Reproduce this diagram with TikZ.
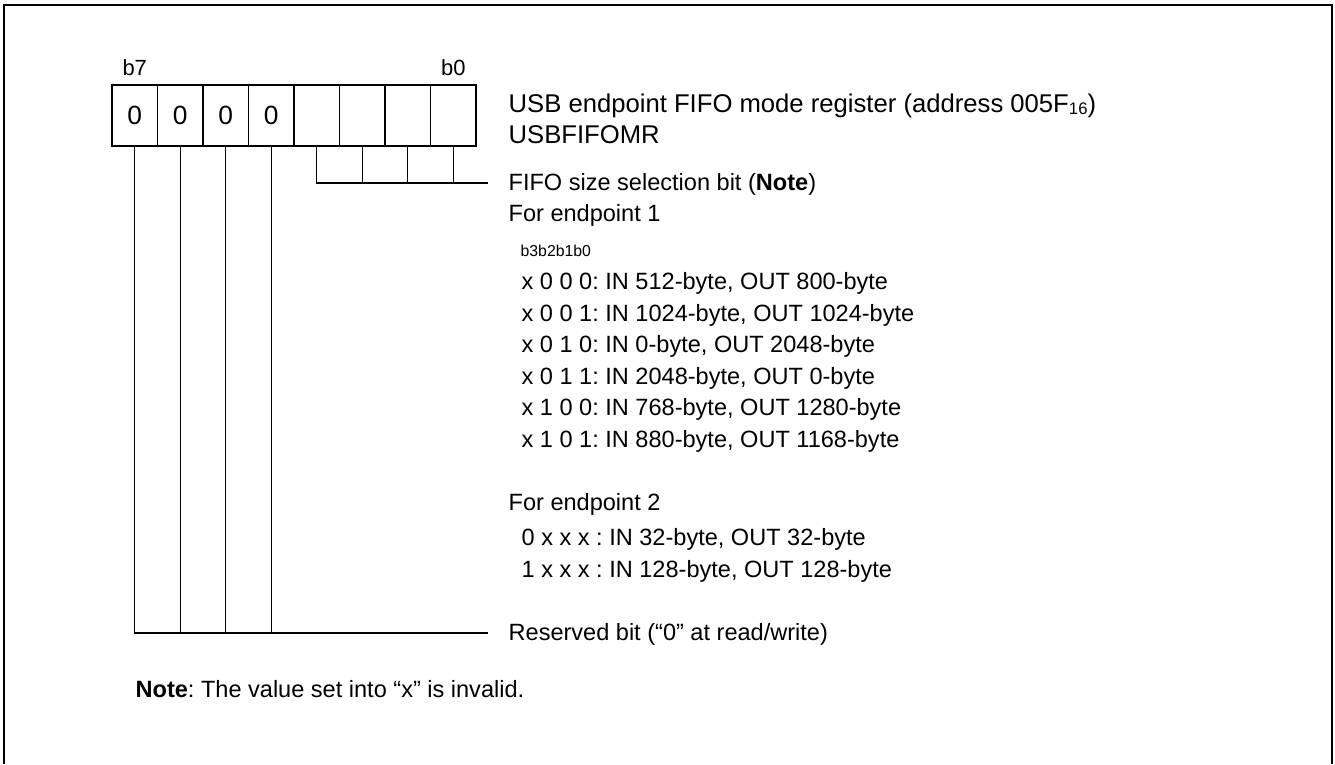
\documentclass[tikz,border=0pt]{standalone}
\usepackage{fontspec}
\setmainfont{Liberation Sans}
\usetikzlibrary{positioning}
\frenchspacing

\begin{document}
\begin{tikzpicture}[x=0.02cm, y=-0.02cm, line width=0.75pt,
    cell/.style={draw, minimum width=0.91cm, minimum height=1.22cm, inner sep=0pt,
                 font=\fontsize{15}{17}\selectfont},
    lbl/.style={anchor=base west, inner sep=0pt, font=\fontsize{13.4}{16}\selectfont},
    title/.style={lbl, font=\fontsize{14.6}{17}\selectfont},
    bitlbl/.style={inner sep=0pt, font=\fontsize{12.5}{14}\selectfont},
    tiny/.style={anchor=base west, inner sep=0pt, font=\fontsize{9}{10}\selectfont}]

    \useasboundingbox (0,0) rectangle (1335,764);
    \draw[line width=1.2pt] (4,764) -- (4,5) -- (1332,5) -- (1332,764);

    % register cells, b7 on the left
    \foreach \i/\v in {0/0, 1/0, 2/0, 3/0, 4/{}, 5/{}, 6/{}, 7/{}} {
        \pgfmathtruncatemacro{\b}{7-\i}
        \node[cell] (c\b) at ({112+45.5*(\i+0.5)}, 115.5) {\v};
    }
    \node[bitlbl, anchor=base, above=0.16cm] at (c7.north) {b7};
    \node[bitlbl, anchor=base, above=0.16cm] at (c0.north) {b0};

    \node[title] (reg) at (508,112) {USB endpoint FIFO mode register (address 005F{\fontsize{9.5}{10}\selectfont\raisebox{-1.5pt}{16}})};
    \node[title] (regname) at (508,143.5) {USBFIFOMR};

    % FIFO size selection bits
    \coordinate (fifoend) at (488,183);
    \draw (c3.south) |- (fifoend);
    \foreach \b in {2,1,0}
        \draw (c\b.south) -- (c\b.south |- fifoend);
    \node[lbl] (fifo) at (508,190) {FIFO size selection bit (\textbf{Note})};
    \node[lbl] (ep1) at (508,221) {For endpoint 1};
    \node[tiny] (bits) at (520,256) {b3b2b1b0};
    \node[lbl] (r0) at (521,289.5) {x 0 0 0: IN 512-byte, OUT 800-byte};
    \node[lbl] (r1) at (521,321) {x 0 0 1: IN 1024-byte, OUT 1024-byte};
    \node[lbl] (r2) at (521,352.5) {x 0 1 0: IN 0-byte, OUT 2048-byte};
    \node[lbl] (r3) at (521,384) {x 0 1 1: IN 2048-byte, OUT 0-byte};
    \node[lbl] (r4) at (521,415.5) {x 1 0 0: IN 768-byte, OUT 1280-byte};
    \node[lbl] (r5) at (521,447) {x 1 0 1: IN 880-byte, OUT 1168-byte};

    \node[lbl] (ep2) at (508,510.5) {For endpoint 2};
    \node[lbl] (s0) at (521,545.5) {0 x x x : IN 32-byte, OUT 32-byte};
    \node[lbl] (s1) at (521,577.5) {1 x x x : IN 128-byte, OUT 128-byte};

    % reserved bits
    \coordinate (resvend) at (488,633);
    \draw (c7.south) |- (resvend);
    \foreach \b in {6,5,4}
        \draw (c\b.south) -- (c\b.south |- resvend);
    \node[lbl] (resv) at (508,640) {Reserved bit (“0” at read/write)};

    \node[lbl] (note) at (135,697) {\textbf{Note}: The value set into “x” is invalid.};

\end{tikzpicture}
\end{document}
